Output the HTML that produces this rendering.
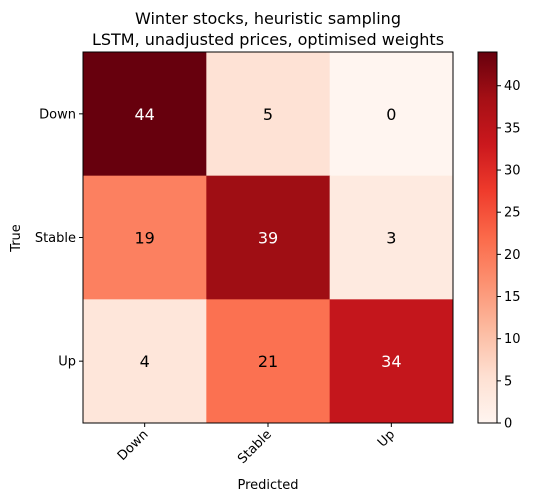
<!DOCTYPE html>
<html><head><meta charset="utf-8"><style>
body{margin:0;background:#fff;}
svg{display:block;font-family:"DejaVu Sans","Liberation Sans",sans-serif;}
</style></head><body>
<svg id="chart" width="533" height="503" viewBox="0 0 533 503" xmlns="http://www.w3.org/2000/svg">
<defs><linearGradient id="cbg" x1="0" y1="1" x2="0" y2="0"></linearGradient></defs>
<text x="268" y="24" font-size="16" text-anchor="middle">Winter stocks, heuristic sampling</text>
<text x="268" y="45" font-size="16" text-anchor="middle">LSTM, unadjusted prices, optimised weights</text>
<g id="cells"></g>
<g id="axes"></g>
<text x="268" y="489" font-size="13" text-anchor="middle">Predicted</text>
<text x="20" y="238" font-size="13" text-anchor="middle" transform="rotate(-90 20 238)">True</text>
<g id="cbar"></g>
</svg>
<script>
const labels = ["Down","Stable","Up"];
const matrix = [[44,5,0],[19,39,3],[4,21,34]];
const cbarTicks = [0,5,10,15,20,25,30,35,40];
const vmin = 0, vmax = 44;

const NS="http://www.w3.org/2000/svg";
const L=83,T=52,R=453,B=423;
const cw=(R-L)/3, ch=(B-T)/3;
const stops=["#fff5f0","#fee0d2","#fcbba1","#fc9272","#fb6a4a","#ef3b2c","#cb181d","#a50f15","#67000d"];
function hex(h){return [1,3,5].map(i=>parseInt(h.substr(i,2),16));}
function cmap(v){let t=(v-vmin)/(vmax-vmin);t=Math.max(0,Math.min(1,t))*(stops.length-1);
 const i=Math.min(Math.floor(t),stops.length-2),f=t-i;const a=hex(stops[i]),b=hex(stops[i+1]);
 return "rgb("+a.map((x,k)=>Math.round(x+(b[k]-x)*f)).join(",")+")";}
function el(tag,attrs,parent){const e=document.createElementNS(NS,tag);for(const k in attrs)e.setAttribute(k,attrs[k]);parent.appendChild(e);return e;}
const xs=i=>L+i*cw, ys=i=>T+i*ch;
const cells=document.getElementById("cells");
matrix.forEach((row,r)=>row.forEach((v,c)=>{
 const rect=el("rect",{x:xs(c),y:ys(r),width:cw+0.5,height:ch+0.5,fill:cmap(v)},cells);
 
 
 const t=el("text",{x:xs(c)+cw/2,y:ys(r)+ch/2+6,"font-size":16,"text-anchor":"middle",fill:v>(vmax/2)?"#fff":"#000"},cells);
 t.textContent=v;
 
 
}));
const ax=document.getElementById("axes");
const fr=el("rect",{x:L,y:T,width:R-L,height:B-T,fill:"none",stroke:"#000","stroke-width":1},ax);


labels.forEach((lab,i)=>{
 const cx=xs(i)+cw/2, cy=ys(i)+ch/2;
 el("line",{x1:cx,y1:B,x2:cx,y2:B+4,stroke:"#000"},ax);
 el("line",{x1:L-4,y1:cy,x2:L,y2:cy,stroke:"#000"},ax);
 const tx=el("text",{x:cx+4,y:B+12,"font-size":13,"text-anchor":"end",transform:`rotate(-45 ${cx+4} ${B+12})`},ax);
 tx.textContent=lab;
 
 
 const ty=el("text",{x:L-7,y:cy+4.5,"font-size":13,"text-anchor":"end"},ax);
 ty.textContent=lab;
 
 
});
const cb=document.getElementById("cbar");
const CL=478,CR=497;
const cys=v=>B-(v-vmin)/(vmax-vmin)*(B-T);
const g=document.getElementById("cbg");
stops.forEach((s,i)=>el("stop",{offset:(i/(stops.length-1)),"stop-color":s},g));
const cr=el("rect",{x:CL,y:T,width:CR-CL,height:B-T,fill:"url(#cbg)",stroke:"#000","stroke-width":1},cb);


cbarTicks.forEach(v=>{
 const y=cys(v);
 el("line",{x1:CR,y1:y,x2:CR+4,y2:y,stroke:"#000"},cb);
 const t=el("text",{x:CR+7,y:y+4.5,"font-size":13},cb);
 t.textContent=v;
 
 
});
</script>
</body></html>
